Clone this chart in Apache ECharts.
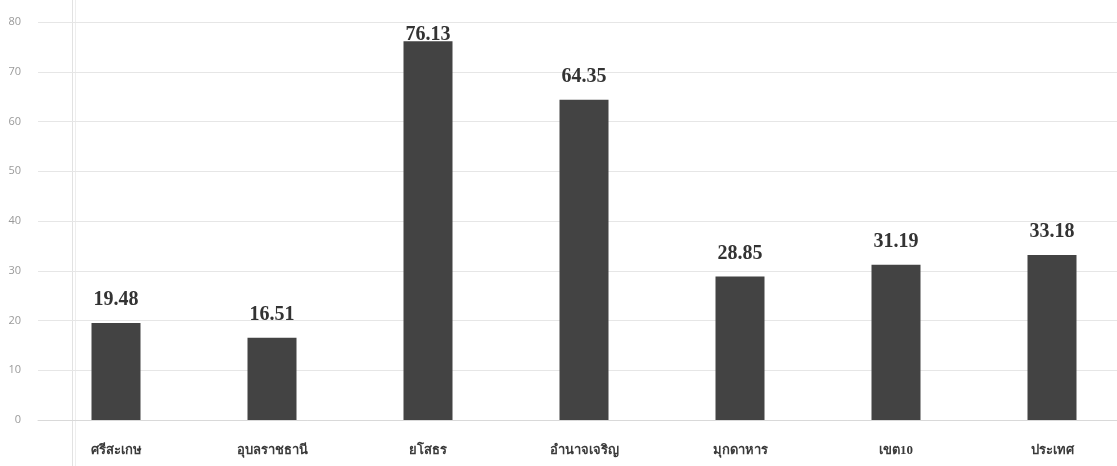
<!DOCTYPE html>
<html>
<head>
<meta charset="utf-8">
<script src="https://cdn.jsdelivr.net/npm/echarts@6/dist/echarts.min.js"></script>
<style>
  html, body { margin: 0; padding: 0; background: #ffffff; }
  #chart { width: 1117px; height: 466px; }
</style>
</head>
<body>
<div id="chart"></div>
<script>
// Provinces of health region 10, the region total and the country
const categories = ['ศรีสะเกษ', 'อุบลราชธานี', 'ยโสธร', 'อำนาจเจริญ', 'มุกดาหาร', 'เขต10', 'ประเทศ'];
const values = [19.48, 16.51, 76.13, 64.35, 28.85, 31.19, 33.18];
const yTicks = [0, 10, 20, 30, 40, 50, 60, 70, 80];

const chart = echarts.init(document.getElementById('chart'), null, { renderer: 'canvas' });

const data = values.map((v, i) => {
  const item = { value: v };
  // the tallest label sits lower, resting on the top of its bar
  if (i === 2) item.label = { offset: [0, 17] };
  return item;
});

chart.setOption({
  backgroundColor: '#ffffff',
  animation: false,
  grid: { left: 38, top: 22, bottom: 46, width: 1092, outerBoundsMode: 'none', containLabel: false },
  xAxis: {
    type: 'category',
    data: categories,
    axisLine: { show: true, lineStyle: { color: '#d9d9d9', width: 1 } },
    axisTick: { show: false },
    axisLabel: {
      margin: 24,
      color: '#3a3a3a',
      fontSize: 13,
      fontWeight: 'bold',
      fontFamily: '"Liberation Serif", "DejaVu Serif", serif'
    }
  },
  yAxis: {
    type: 'value',
    min: yTicks[0],
    max: yTicks[yTicks.length - 1],
    interval: yTicks[1] - yTicks[0],
    axisLine: { show: false },
    axisTick: { show: false },
    axisLabel: {
      margin: 17,
      color: '#9a9a9a',
      fontSize: 11,
      fontFamily: '"Open Sans", "DejaVu Sans", sans-serif'
    },
    splitLine: { lineStyle: { color: '#e6e6e6', width: 1 } }
  },
  series: [{
    type: 'bar',
    data: data,
    barWidth: 49,
    itemStyle: { color: '#434343' },
    label: {
      show: true,
      position: 'top',
      distance: 13,
      color: '#333333',
      fontSize: 20,
      fontWeight: 'bold',
      fontFamily: '"Liberation Serif", "DejaVu Serif", serif',
      formatter: p => p.value.toFixed(2)
    }
  }],
  graphic: [
    { type: 'line', shape: { x1: 72.5, y1: 0, x2: 72.5, y2: 466 }, style: { stroke: '#e2e2e2', lineWidth: 1 }, silent: true },
    { type: 'line', shape: { x1: 75.5, y1: 0, x2: 75.5, y2: 466 }, style: { stroke: '#eeeeee', lineWidth: 1 }, silent: true }
  ]
});
</script>
</body>
</html>
